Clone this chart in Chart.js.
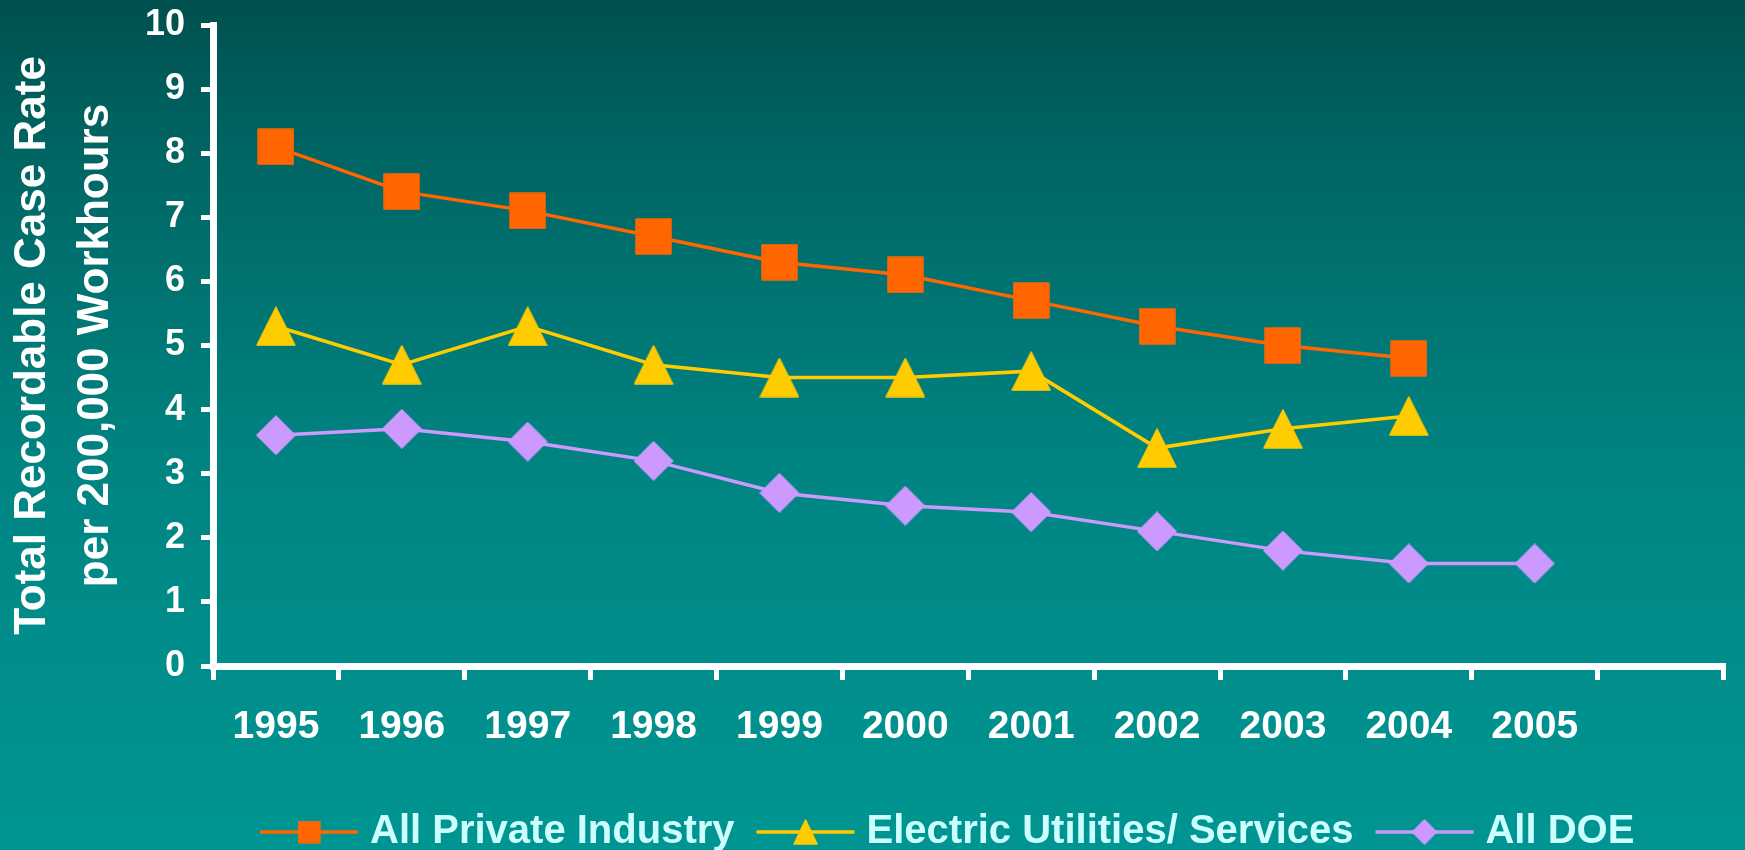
<!DOCTYPE html>
<html>
<head>
<meta charset="utf-8">
<title>Total Recordable Case Rate</title>
<script src="https://cdn.jsdelivr.net/npm/chart.js@4.4.1/dist/chart.umd.min.js"></script>
<style>
  html, body { margin: 0; padding: 0; background: #007a78; }
  #wrap { width: 1745px; height: 850px; }
</style>
</head>
<body>
<div id="wrap"><canvas id="rateChart" width="1745" height="850"></canvas></div>
<script>
// Data
const years = ['1995', '1996', '1997', '1998', '1999', '2000', '2001', '2002', '2003', '2004', '2005', ''];
const seriesLabels = ['All Private Industry', 'Electric Utilities/ Services', 'All DOE'];
const privateIndustry = [8.1, 7.4, 7.1, 6.7, 6.3, 6.1, 5.7, 5.3, 5.0, 4.8];
const electricUtilities = [5.3, 4.7, 5.3, 4.7, 4.5, 4.5, 4.6, 3.4, 3.7, 3.9];
const allDoe = [3.6, 3.7, 3.5, 3.2, 2.7, 2.5, 2.4, 2.1, 1.8, 1.6, 1.6];
const yAxisTitle = ['Total Recordable Case Rate', 'per 200,000 Workhours'];

const FONT = '"Liberation Sans", Arial, sans-serif';
Chart.defaults.font.family = FONT;

// Colors
const orange = '#FF6600';
const yellow = '#FFCC00';
const lilac = '#CC99FF';

// Build a marker image (square / triangle / diamond)
function makeMarker(shape, color, w, h) {
    const c = document.createElement('canvas');
    c.width = w + 2;
    c.height = h + 2;
    const g = c.getContext('2d');
    g.fillStyle = color;
    g.strokeStyle = color;
    g.lineWidth = 1.5;
    g.lineJoin = 'round';
    g.beginPath();
    if (shape === 'square') {
        g.rect(1, 1, w, h);
    } else if (shape === 'triangle') {
        g.moveTo(1 + w / 2, 1);
        g.lineTo(1 + w, 1 + h);
        g.lineTo(1, 1 + h);
        g.closePath();
    } else {
        g.moveTo(1 + w / 2, 1);
        g.lineTo(1 + w, 1 + h / 2);
        g.lineTo(1 + w / 2, 1 + h);
        g.lineTo(1, 1 + h / 2);
        g.closePath();
    }
    g.fill();
    g.stroke();
    return c;
}

const pointMarkers = [
    makeMarker('square', orange, 35, 35),
    makeMarker('triangle', yellow, 38, 38),
    makeMarker('diamond', lilac, 38, 38)
];
const legendMarkers = [
    makeMarker('square', orange, 21, 21),
    makeMarker('triangle', yellow, 23, 24),
    makeMarker('diamond', lilac, 24, 24)
];

// Teal gradient background
const backgroundPlugin = {
    id: 'tealBackground',
    beforeDraw(chart) {
        const {ctx, width, height} = chart;
        const grad = ctx.createLinearGradient(0, 0, 0, height);
        grad.addColorStop(0, '#00504E');
        grad.addColorStop(0.15, '#006260');
        grad.addColorStop(0.3, '#00706E');
        grad.addColorStop(0.55, '#008482');
        grad.addColorStop(0.78, '#008E8C');
        grad.addColorStop(1, '#009592');
        ctx.save();
        ctx.fillStyle = grad;
        ctx.fillRect(0, 0, width, height);
        ctx.restore();
    }
};

// Legend with line + marker, as in the original
const lineLegendPlugin = {
    id: 'lineLegend',
    afterDraw(chart) {
        const ctx = chart.ctx;
        const lineY = 832;
        ctx.save();
        ctx.font = 'bold 40px ' + FONT;
        ctx.textBaseline = 'alphabetic';
        let x = 260;
        chart.data.datasets.forEach((ds, i) => {
            ctx.strokeStyle = ds.borderColor;
            ctx.lineWidth = 3.5;
            ctx.beginPath();
            ctx.moveTo(x, lineY);
            ctx.lineTo(x + 98, lineY);
            ctx.stroke();
            const m = legendMarkers[i];
            ctx.drawImage(m, x + 49 - m.width / 2, lineY - m.height / 2);
            ctx.fillStyle = '#CCFFFF';
            ctx.fillText(ds.label, x + 110, 843);
            x += 110 + ctx.measureText(ds.label).width + 22;
        });
        ctx.restore();
    }
};

const ctx = document.getElementById('rateChart').getContext('2d');
new Chart(ctx, {
    type: 'line',
    data: {
        labels: years,
        datasets: [
            {
                label: seriesLabels[0],
                data: privateIndustry,
                borderColor: orange,
                backgroundColor: orange,
                borderWidth: 3.5,
                pointStyle: pointMarkers[0],
                pointRadius: 18
            },
            {
                label: seriesLabels[1],
                data: electricUtilities,
                borderColor: yellow,
                backgroundColor: yellow,
                borderWidth: 3.5,
                pointStyle: pointMarkers[1],
                pointRadius: 18
            },
            {
                label: seriesLabels[2],
                data: allDoe,
                borderColor: lilac,
                backgroundColor: lilac,
                borderWidth: 3.5,
                pointStyle: pointMarkers[2],
                pointRadius: 18
            }
        ]
    },
    options: {
        responsive: false,
        animation: false,
        layout: {
            padding: { top: 25, right: 11, bottom: 0, left: 0 }
        },
        plugins: {
            legend: { display: false },
            tooltip: { enabled: false }
        },
        scales: {
            x: {
                type: 'category',
                offset: true,
                grid: {
                    offset: true,
                    drawOnChartArea: false,
                    tickLength: 14,
                    color: '#FFFFFF',
                    lineWidth: 5
                },
                border: { color: '#FFFFFF', width: 7 },
                ticks: {
                    color: '#FFFFFF',
                    font: { size: 39, weight: 'bold' },
                    padding: 24,
                    maxRotation: 0,
                    autoSkip: false
                },
                afterFit: (scale) => { scale.height = 184; }
            },
            y: {
                min: 0,
                max: 10,
                ticks: {
                    stepSize: 1,
                    color: '#FFFFFF',
                    font: { size: 36, weight: 'bold' },
                    padding: 16
                },
                grid: {
                    drawOnChartArea: false,
                    tickLength: 12,
                    color: '#FFFFFF',
                    lineWidth: 5
                },
                border: { color: '#FFFFFF', width: 7 },
                title: {
                    display: true,
                    text: yAxisTitle,
                    color: '#FFFFFF',
                    font: { size: 44, weight: 'bold', lineHeight: 1.42 },
                    padding: { top: 2, bottom: 0 }
                },
                afterFit: (scale) => {
                    scale.width = 213;
                    scale.paddingTop = 20;
                    scale.paddingBottom = 20;
                }
            }
        }
    },
    plugins: [backgroundPlugin, lineLegendPlugin]
});
</script>
</body>
</html>
